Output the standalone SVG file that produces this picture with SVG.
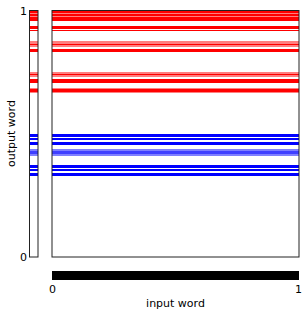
<svg xmlns="http://www.w3.org/2000/svg" width="307" height="315" viewBox="0 0 307 315">
<defs>
<style>
.r{fill:#ff0000}
.rp{fill:#ff0000;fill-opacity:.5}
.b{fill:#0000ff}
.bp{fill:#0000ff;fill-opacity:.5}
.frame{fill:none;stroke:#222;stroke-width:1}
text{font-family:"DejaVu Sans","Liberation Sans",sans-serif;font-size:11px;fill:#000}
</style>
<g id="stripes">
<rect class="r" x="0" y="11" width="1" height="2"/>
<rect class="rp" x="0" y="13" width="1" height="1"/>
<rect class="r" x="0" y="14" width="1" height="2"/>
<rect class="rp" x="0" y="16" width="1" height="1"/>
<rect class="r" x="0" y="17" width="1" height="4"/>
<rect class="r" x="0" y="26" width="1" height="3"/>
<rect class="r" x="0" y="30" width="1" height="1"/>
<rect class="rp" x="0" y="41" width="1" height="6"/>
<rect class="r" x="0" y="44" width="1" height="1"/>
<rect class="r" x="0" y="49" width="1" height="3"/>
<rect class="rp" x="0" y="72" width="1" height="5"/>
<rect class="r" x="0" y="74" width="1" height="1"/>
<rect class="r" x="0" y="79" width="1" height="4"/>
<rect class="rp" x="0" y="88" width="1" height="5"/>
<rect class="r" x="0" y="89" width="1" height="3"/>
<rect class="b" x="0" y="134" width="1" height="3"/>
<rect class="b" x="0" y="138" width="1" height="2"/>
<rect class="b" x="0" y="142" width="1" height="3"/>
<rect class="bp" x="0" y="149" width="1" height="7"/>
<rect class="bp" x="0" y="151" width="1" height="3"/>
<rect class="b" x="0" y="165" width="1" height="3"/>
<rect class="b" x="0" y="169" width="1" height="2"/>
<rect class="b" x="0" y="173" width="1" height="3"/>
</g>
</defs>
<g id="output-strip">
<use href="#stripes" transform="translate(29.5,0) scale(8.5,1)"/>
<rect class="frame" x="29.5" y="10.5" width="8.5" height="246.5"/>
</g>
<g id="main-panel">
<use href="#stripes" transform="translate(52,0) scale(247,1)"/>
<rect class="frame" x="52" y="10.5" width="247" height="246.5"/>
</g>
<g id="input-bar">
<rect x="52" y="271" width="247" height="9" fill="#000"/>
</g>
<g id="labels">
<text x="27" y="14.5" text-anchor="end">1</text>
<text x="27" y="261" text-anchor="end">0</text>
<text transform="translate(15,133.5) rotate(-90)" text-anchor="middle">output word</text>
<text x="52.5" y="292.5" text-anchor="middle">0</text>
<text x="298.5" y="292.5" text-anchor="middle">1</text>
<text x="175.5" y="306.5" text-anchor="middle">input word</text>
</g>
</svg>
